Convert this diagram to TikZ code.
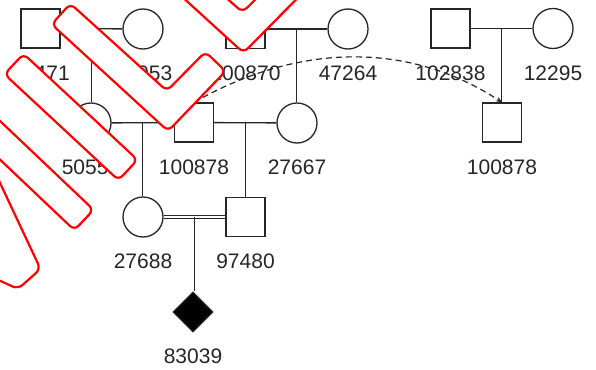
\documentclass[tikz,border=0pt]{standalone}
\usepackage{fontspec}
\setmainfont{Liberation Sans}
\usetikzlibrary{calc,shapes.geometric,arrows.meta,shadows}
\tikzstyle{person} = [
    draw=black!85,
    line width=1.3pt,
    inner sep=0pt,
    fill=white,
]
\tikzstyle{male} = [
    person, rectangle,
    minimum size=39pt,
]
\tikzstyle{female} = [
    person, circle,
    minimum size=40pt,
]
\tikzstyle{unknown} = [
    person, diamond,
    minimum size=40pt,
    fill=black,
]
\tikzstyle{idlabel} = [
    inner sep=0pt,
    text=black!85,
    font=\fontsize{21}{25}\selectfont,
]
\tikzstyle{kin} = [draw=black!85, line width=1.3pt]
\tikzstyle{stripe} = [
    fill=white,
    draw=red,
    line width=2.2pt,
    rounded corners=6pt,
    drop shadow={opacity=.15, shadow xshift=1.2pt, shadow yshift=-1.2pt},
]

\begin{document}
\begin{tikzpicture}[x=1pt, y=-1pt]
    \useasboundingbox (0,0) rectangle (596,369);

    % people
    \node (male1) at (40.5, 28.5) [male] {};
    \node (female1) at (143, 29) [female] {};
    \node (male2) at (245.5, 29) [male] {};
    \node (female2) at (348, 29) [female] {};
    \node (male3) at (450.5, 28.5) [male] {};
    \node (female3) at (553, 28.5) [female] {};
    \node (female4) at (91, 123) [female] {};
    \node (male4) at (194, 122.5) [male] {};
    \node (female5) at (297, 123) [female] {};
    \node (male5) at (502, 122.5) [male] {};
    \node (female6) at (143, 217) [female] {};
    \node (male6) at (245.5, 217) [male] {};
    \node (unknown1) at (193, 312) [unknown] {};

    % ids
    \foreach \who/\txt in {male1/20471, female1/12053, male2/100870, female2/47264,
        male3/102838, female3/12295, female4/50553, male4/100878, female5/27667,
        male5/100878, female6/27688, male6/97480, unknown1/83039} {
        \node (id-\who) [idlabel] at ($(\who)+(0,44.5)$) {\txt};
    }

    % couples and children
    \draw [kin] (male1) -- (female1);
    \draw [kin] (male2) -- (female2);
    \draw [kin] (male3) -- (female3);
    \draw [kin] (female4) -- (male4);
    \draw [kin] (male4) -- (female5);
    \draw [kin, line width=0.9pt, double, double distance=1.6pt] (female6) -- (male6);

    \coordinate (c1) at ($(male1.east)!0.5!(female1.west)$);
    \coordinate (c2) at ($(male2.east)!0.5!(female2.west)$);
    \coordinate (c3) at ($(male3.east)!0.5!(female3.west)$);
    \coordinate (c4) at ($(female4.east)!0.5!(male4.west)$);
    \coordinate (c5) at ($(male4.east)!0.5!(female5.west)$);
    \coordinate (c6) at ($(female6.east)!0.5!(male6.west)$);
    \draw [kin] (c1) -- (c1 |- female4.north);
    \draw [kin] (c2) -- (c2 |- female5.north);
    \draw [kin] (c3) -- (c3 |- male5.north);
    \draw [kin] (c4) -- (c4 |- female6.north);
    \draw [kin] (c5) -- (c5 |- male6.north);
    \draw [kin] (c6) -- (c6 |- unknown1.north);

    % same person
    \draw [draw=black!85, line width=1.2pt, dash pattern=on 6pt off 4pt, -{Stealth[length=6pt, width=5pt]}]
        (male4.north) .. controls (300,42) and (410,42) .. (male5.north);

    % overlays
    \path [stripe] (166.6,-17.3) -- (243.5,52.8) -- (316.5,-21.2) -- (296.7,-41) -- (242.5,12.2) -- (185.4,-38.1) -- cycle;
    \path [stripe] (51.6,24.3) -- (168.1,131.1) -- (225.6,71.2) -- (205.4,51.8) -- (166.9,90.9) -- (70.4,3.65) -- cycle;
    \path [stripe] (23.5,53.8) -- (137.5,159.8) -- (118.5,180.2) -- (4.5,74.2) -- cycle;
    \path [stripe] (-51.4,72.2) -- (93.6,209.8) -- (74.4,230.2) -- (-70.6,92.6) -- cycle;
    \path [stripe] (-30,119) -- (40.5,269) -- (18,289) -- (-30,267) -- cycle;

\end{tikzpicture}
\end{document}
